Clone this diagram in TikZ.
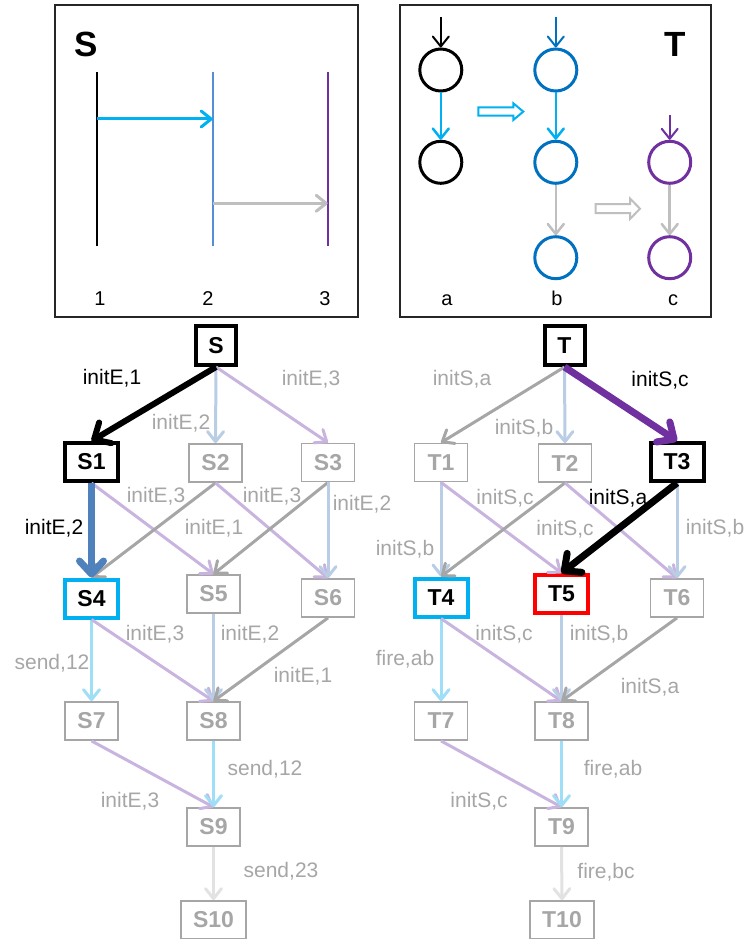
\documentclass[tikz,border=0pt]{standalone}
\usepackage{fontspec}
\setmainfont{Liberation Sans}
\usetikzlibrary{arrows.meta}
\definecolor{cyanA}{HTML}{00B0F0}
\definecolor{steelA}{HTML}{4F81BD}
\definecolor{laneB}{HTML}{558ED5}
\definecolor{blueB}{HTML}{0070C0}
\definecolor{purpA}{HTML}{7030A0}
\definecolor{paleBlue}{HTML}{B9CDE5}
\definecolor{palePurp}{HTML}{C8B4DE}
\definecolor{paleCyan}{HTML}{9EDFF7}
\definecolor{midGray}{HTML}{A6A6A6}
\definecolor{lightGray}{HTML}{BFBFBF}
\definecolor{faintGray}{HTML}{E2E2E2}
\definecolor{txtGray}{HTML}{A6A6A6}
\definecolor{redA}{HTML}{FF0000}
\begin{document}
\begin{tikzpicture}[x=1pt,y=-1pt,
  box/.style={draw=midGray, line width=1.8pt, minimum width=53pt, minimum height=38pt,
    inner sep=0pt, font=\bfseries\fontsize{23}{23}\selectfont, text=txtGray},
  hot/.style={box, line width=4pt, text=black},
  lbl/.style={font=\fontsize{21}{21}\selectfont, text=txtGray, anchor=base, inner sep=0pt},
  dark/.style={lbl, text=black},
  edge/.style={line width=3pt, -{Straight Barb[length=10pt,width=16pt,round]}},
  heavy/.style={line width=7pt, -{Straight Barb[length=13pt,width=24pt,round]}},
  ring/.style={circle, draw, line width=3pt, minimum size=42pt, inner sep=0pt},
  title/.style={font=\bfseries\fontsize{35}{35}\selectfont, anchor=base, inner sep=0pt},
  num/.style={font=\fontsize{20}{20}\selectfont, anchor=base, inner sep=0pt},
]
\useasboundingbox (0,0) rectangle (750,939);

% ---------- panel S: three lanes with messages ----------
\draw[line width=1.5pt, black!85] (55,5) rectangle (358,317);
\node[title] (sTitle) at (86.5,57) {S};
\coordinate (p1t) at (96.7,72);  \coordinate (p1b) at (96.7,246);
\coordinate (p2t) at (212.7,72); \coordinate (p2b) at (212.7,246);
\coordinate (p3t) at (327.7,72); \coordinate (p3b) at (327.7,246);
\draw[line width=2pt, black] (p1t) -- (p1b);
\draw[line width=2pt, laneB] (p2t) -- (p2b);
\draw[line width=2pt, purpA] (p3t) -- (p3b);
\coordinate (m1a) at (96.7,119);  \coordinate (m1b) at (212.7,119);
\coordinate (m2a) at (212.7,203.3); \coordinate (m2b) at (327.7,203.3);
\draw[edge, cyanA] (m1a) -- (m1b);
\draw[edge, lightGray] (m2a) -- (m2b);
\node[num] (n1) at (100,305) {1};
\node[num] (n2) at (208,305) {2};
\node[num] (n3) at (325,305) {3};

% ---------- panel T: three chains of places ----------
\draw[line width=1.5pt, black!85] (400,5) rectangle (711,317);
\node[title] (tTitle) at (675,57) {T};
\node[ring, black] (a1) at (440.8,70) {};
\node[ring, black] (a2) at (440.8,162.3) {};
\node[ring, blueB] (b1) at (555.8,70) {};
\node[ring, blueB] (b2) at (555.8,162.3) {};
\node[ring, blueB] (b3) at (555.8,257.7) {};
\node[ring, purpA] (c1) at (669.7,162.3) {};
\node[ring, purpA] (c2) at (669.7,257.7) {};
\coordinate (a0) at (440.8,17);
\coordinate (b0) at (555.8,17);
\coordinate (c0) at (669.7,115);
\draw[edge, black, line width=2pt] (a0) -- (a1);
\draw[edge, blueB, line width=2pt] (b0) -- (b1);
\draw[edge, purpA, line width=2pt] (c0) -- (c1);
\draw[edge, cyanA, line width=2.5pt] (a1) -- (a2);
\draw[edge, cyanA, line width=2.5pt] (b1) -- (b2);
\draw[edge, lightGray, line width=2.5pt] (b2) -- (b3);
\draw[edge, lightGray, line width=2.5pt] (c1) -- (c2);
% hollow block arrows
\draw[cyanA, line width=2pt, fill=white] (478.3,107.5) -- (513.3,107.5) -- (513.3,103.3)
  -- (523.3,111.6) -- (513.3,120) -- (513.3,115.7) -- (478.3,115.7) -- cycle;
\draw[lightGray, line width=2pt, fill=white] (595.7,204.2) -- (630,204.2) -- (630,198.5)
  -- (640,208.7) -- (630,219) -- (630,213.2) -- (595.7,213.2) -- cycle;
\node[num] (la) at (447,305) {a};
\node[num] (lb) at (557,305) {b};
\node[num] (lc) at (673,305) {c};

% ---------- state graph of S ----------
\node[hot, draw=black, minimum width=40pt, minimum height=39pt] (S) at (216,345.5) {S};
\node[hot, draw=black] (S1) at (91.5,462) {S1};
\node[box] (S2) at (215.5,463) {S2};
\node[box] (S3) at (328,462.5) {S3};
\node[hot, draw=cyanA] (S4) at (91.5,598.5) {S4};
\node[box] (S5) at (213.5,594) {S5};
\node[box] (S6) at (328,598) {S6};
\node[box] (S7) at (91.5,721) {S7};
\node[box] (S8) at (213.5,721) {S8};
\node[box] (S9) at (213.5,827) {S9};
\node[box, minimum width=65pt] (S10) at (213.5,920) {S10};

\draw[edge, paleBlue] (S.south) -- (S2.north);
\draw[edge, palePurp] (S.south) -- (S3.north);
\draw[edge, palePurp] (S1.south) -- (S5.north);
\draw[edge, midGray] (S2.south) -- (S4.north);
\draw[edge, palePurp] (S2.south) -- (S6.north);
\draw[edge, midGray] (S3.south) -- (S5.north);
\draw[edge, paleBlue] (S3.south) -- (S6.north);
\draw[edge, paleCyan] (S4.south) -- (S7.north);
\draw[edge, palePurp] (S4.south) -- (S8.north);
\draw[edge, paleBlue] (S5.south) -- (S8.north);
\draw[edge, midGray] (S6.south) -- (S8.north);
\draw[edge, palePurp] (S7.south) -- (S9.north);
\draw[edge, paleCyan] (S8.south) -- (S9.north);
\draw[edge, faintGray] (S9.south) -- (S10.north);
\draw[heavy, black, line width=6pt] (S.south) -- (S1.north);
\draw[heavy, steelA] (S1.south) -- (S4.north);

\node[dark] (eS1) at (112,384) {initE,1};
\node[lbl] (eS2) at (181,429) {initE,2};
\node[lbl] (eS3) at (311,385) {initE,3};
\node[dark] (eS14) at (54,534) {initE,2};
\node[lbl] (eS15) at (156,502) {initE,3};
\node[lbl] (eS26) at (272,502) {initE,3};
\node[lbl] (eS24) at (214,534) {initE,1};
\node[lbl] (eS36) at (362,510) {initE,2};
\node[lbl] (eS47) at (52,669) {send,12};
\node[lbl] (eS48) at (155,640) {initE,3};
\node[lbl] (eS58) at (250,640) {initE,2};
\node[lbl] (eS68) at (303,682) {initE,1};
\node[lbl] (eS79) at (130,807) {initE,3};
\node[lbl] (eS89) at (265,775) {send,12};
\node[lbl] (eS910) at (281,877) {send,23};

% ---------- state graph of T ----------
\node[hot, draw=black, minimum width=40pt, minimum height=39pt] (T) at (564.5,345.5) {T};
\node[box] (T1) at (441,462.5) {T1};
\node[box] (T2) at (565,463) {T2};
\node[hot, draw=black] (T3) at (677,462) {T3};
\node[hot, draw=cyanA] (T4) at (441,597.5) {T4};
\node[hot, draw=redA] (T5) at (561.5,594) {T5};
\node[box] (T6) at (677,598) {T6};
\node[box] (T7) at (441,721) {T7};
\node[box] (T8) at (561.5,721) {T8};
\node[box] (T9) at (561.5,827) {T9};
\node[box, minimum width=64pt] (T10) at (562,920) {T10};

\draw[edge, midGray] (T.south) -- (T1.north);
\draw[edge, paleBlue] (T.south) -- (T2.north);
\draw[edge, paleBlue] (T1.south) -- (T4.north);
\draw[edge, palePurp] (T1.south) -- (T5.north);
\draw[edge, midGray] (T2.south) -- (T4.north);
\draw[edge, palePurp] (T2.south) -- (T6.north);
\draw[edge, paleBlue] (T3.south) -- (T6.north);
\draw[edge, paleCyan] (T4.south) -- (T7.north);
\draw[edge, palePurp] (T4.south) -- (T8.north);
\draw[edge, paleBlue] (T5.south) -- (T8.north);
\draw[edge, midGray] (T6.south) -- (T8.north);
\draw[edge, palePurp] (T7.south) -- (T9.north);
\draw[edge, paleCyan] (T8.south) -- (T9.north);
\draw[edge, faintGray] (T9.south) -- (T10.north);
\draw[heavy, purpA] (T.south) -- (T3.north);
\draw[heavy, black] (T3.south) -- (T5.north);

\node[lbl] (eT1) at (462,385) {initS,a};
\node[lbl] (eT2) at (524,434) {initS,b};
\node[dark] (eT3) at (660,386) {initS,c};
\node[lbl] (eT14) at (405,555) {initS,b};
\node[lbl] (eT15) at (505,504) {initS,c};
\node[lbl] (eT24) at (565,535) {initS,c};
\node[dark] (eT35) at (618,504) {initS,a};
\node[lbl] (eT36) at (715,534) {initS,b};
\node[lbl] (eT47) at (405,665) {fire,ab};
\node[lbl] (eT48) at (504,640) {initS,c};
\node[lbl] (eT58) at (599,640) {initS,b};
\node[lbl] (eT68) at (650,693) {initS,a};
\node[lbl] (eT79) at (479,807) {initS,c};
\node[lbl] (eT89) at (613,775) {fire,ab};
\node[lbl] (eT910) at (606,878) {fire,bc};
\end{tikzpicture}
\end{document}
